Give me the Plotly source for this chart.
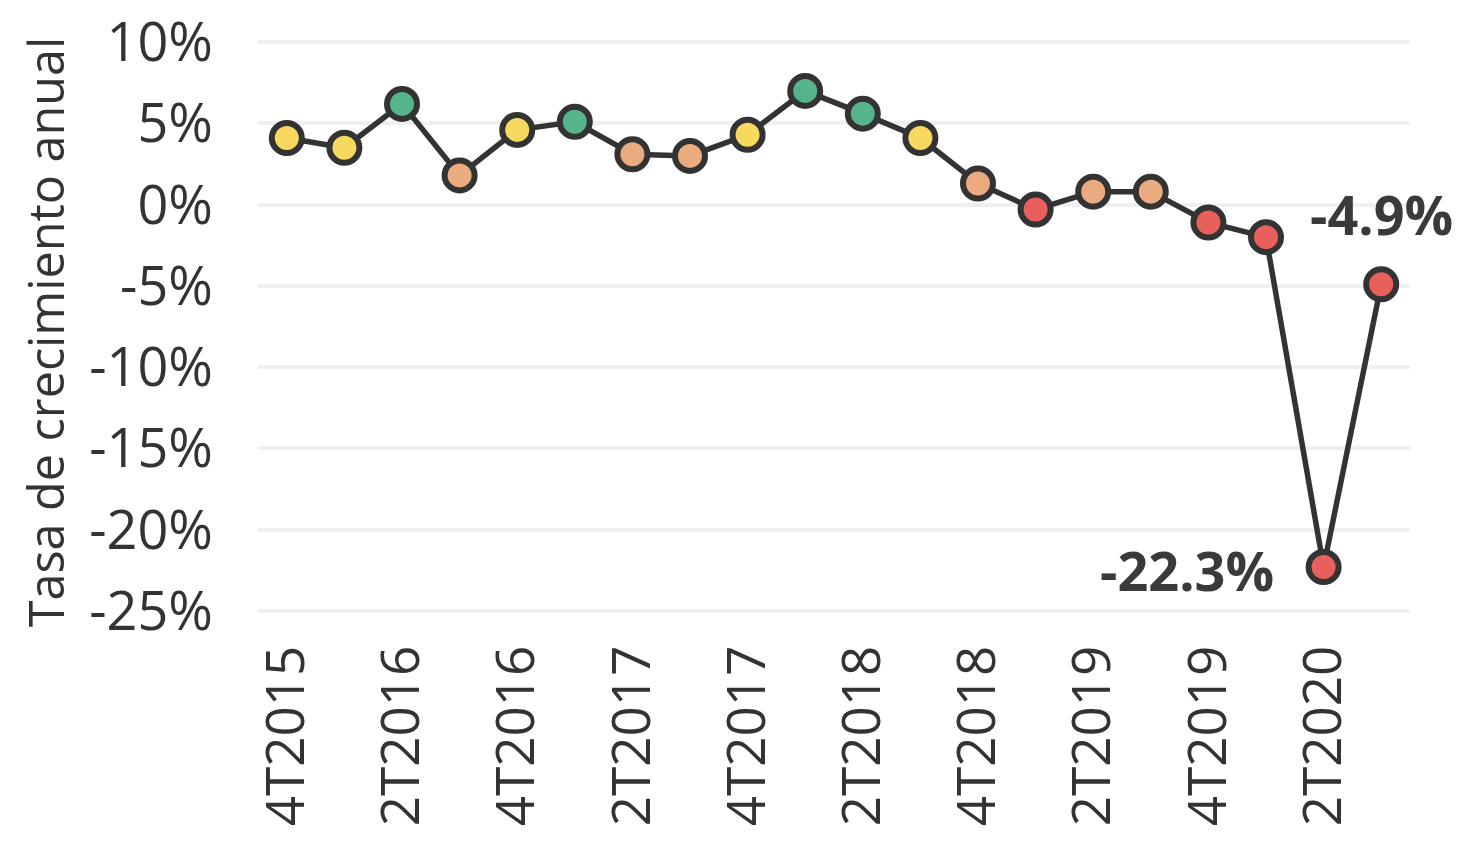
import plotly.graph_objects as go

quarters = ["4T2015", "1T2016", "2T2016", "3T2016", "4T2016", "1T2017", "2T2017", "3T2017",
            "4T2017", "1T2018", "2T2018", "3T2018", "4T2018", "1T2019", "2T2019", "3T2019",
            "4T2019", "1T2020", "2T2020", "3T2020"]
growth = [4.1, 3.5, 6.2, 1.8, 4.6, 5.1, 3.1, 3.0, 4.3, 7.0, 5.6, 4.1, 1.3, -0.3, 0.8, 0.8,
          -1.1, -2.0, -22.3, -4.9]
levels = ["yellow", "yellow", "green", "peach", "yellow", "green", "peach", "peach", "yellow",
          "green", "green", "yellow", "peach", "red", "peach", "peach", "red", "red", "red", "red"]
tick_labels = quarters[::2]
y_ticks = [10, 5, 0, -5, -10, -15, -20, -25]

palette = {"yellow": "#f7d95f", "green": "#55b48a", "peach": "#ebab80", "red": "#e8605c"}
colors = [palette[l] for l in levels]
dark = "#333333"
FONT = "Open Sans"

fig = go.Figure()
fig.add_trace(go.Scatter(
    x=quarters, y=growth, mode="lines+markers",
    line=dict(color=dark, width=5.5),
    marker=dict(size=30, color=colors, line=dict(color=dark, width=6)),
    showlegend=False,
))

fig.add_annotation(x=quarters[-1], y=growth[-1], text="<b>%.1f%%</b>" % growth[-1],
                   showarrow=False, yshift=70, xanchor="center", yanchor="middle",
                   font=dict(family=FONT, size=54, color="#3a3a3a"))
fig.add_annotation(x=quarters[-2], y=growth[-2], text="<b>%.1f%%</b>" % growth[-2],
                   showarrow=False, xshift=-48, yshift=-3, xanchor="right", yanchor="middle",
                   font=dict(family=FONT, size=54, color="#3a3a3a"))
fig.add_annotation(x=-0.185, y=0.49, xref="paper", yref="paper", text="Tasa de crecimiento anual",
                   textangle=-90, showarrow=False, xanchor="center", yanchor="middle",
                   font=dict(family=FONT, size=48.5, color="#333333"))

fig.update_layout(
    width=1464, height=848,
    margin=dict(l=250, r=62, t=26, b=237, autoexpand=False),
    plot_bgcolor="white", paper_bgcolor="white",
    font=dict(family=FONT, size=53, color="#333333"),
)
fig.update_xaxes(
    type="category", range=[-0.5, 19.5], automargin=False,
    tickmode="array", tickvals=tick_labels, ticktext=tick_labels,
    tickangle=-90, showgrid=False, zeroline=False, showline=False,
    ticklabelstandoff=15, ticklabeloverflow="allow",
    tickfont=dict(family=FONT, size=53, color="#333333"),
)
fig.update_yaxes(
    range=[-25.5, 10.5], tickmode="array", tickvals=y_ticks, automargin=False,
    ticktext=["%d%%" % v for v in y_ticks],
    showgrid=True, gridcolor="#efefef", gridwidth=3.5, zeroline=False, showline=False,
    ticklabelstandoff=44, ticklabeloverflow="allow",
    tickfont=dict(family=FONT, size=54, color="#333333"),
)

fig.write_html("out.html")
